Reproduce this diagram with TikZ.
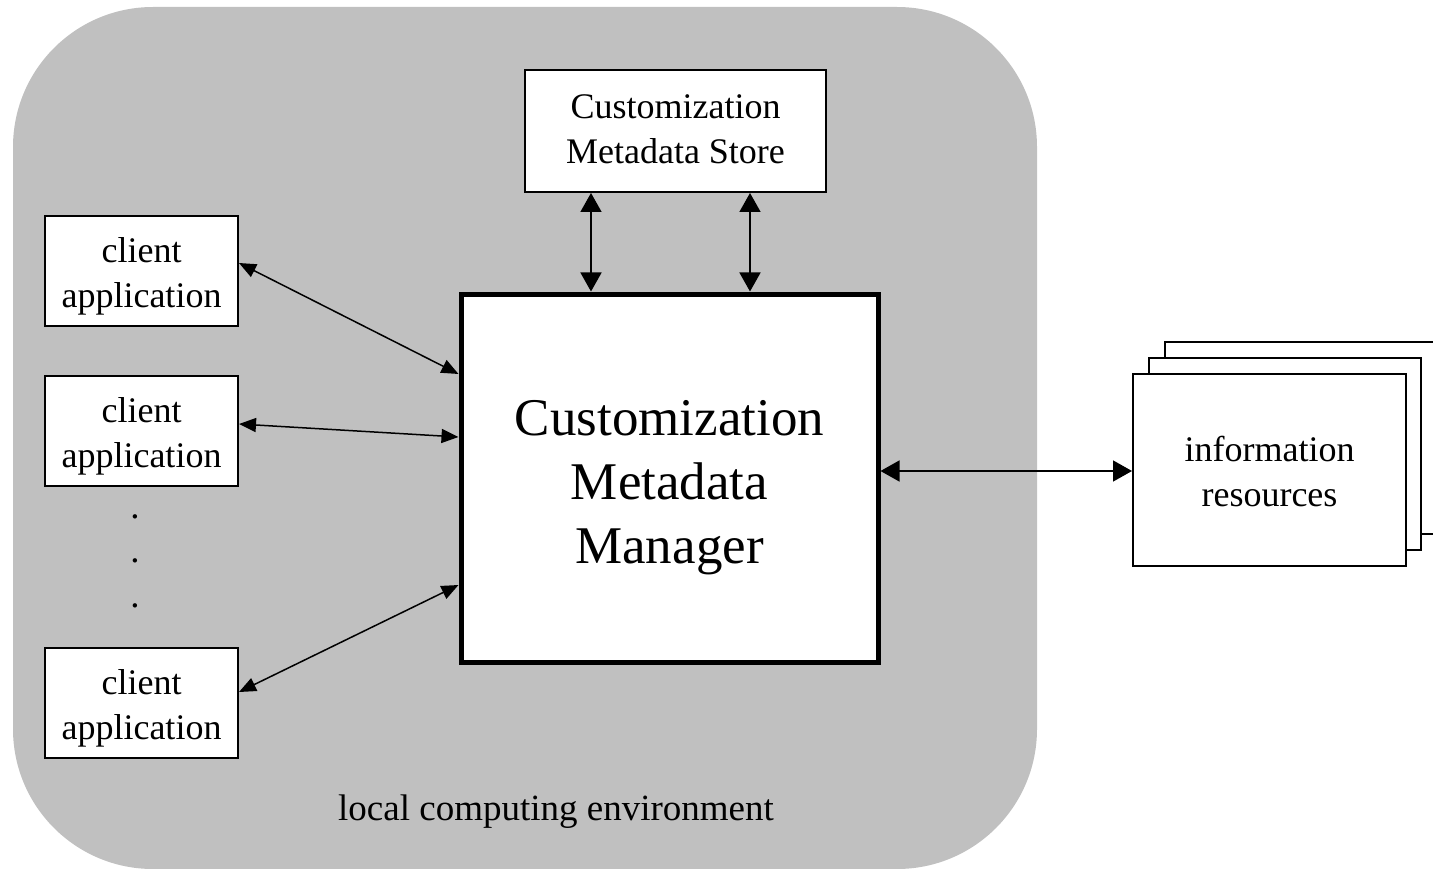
\documentclass[tikz,border=0pt]{standalone}
\usepackage{fontspec}
\setmainfont{Liberation Serif}
\usetikzlibrary{arrows.meta,calc}
\definecolor{envgray}{HTML}{C0C0C0}
\tikzset{
  box/.style={draw=black, line width=2pt, fill=white, inner sep=0pt},
  bigbox/.style={draw=black, line width=5pt, fill=white, inner sep=0pt},
  txt/.style={align=center, inner sep=0pt, font=\fontsize{36}{45}\selectfont},
  bigtxt/.style={align=center, inner sep=0pt, font=\fontsize{53}{64}\selectfont},
  pagebox/.style={draw=black, line width=2pt, fill=white, minimum width=272pt, minimum height=192pt},
  clientbox/.style={box, minimum width=193pt, minimum height=110pt},
  biarrow/.style={line width=1.5pt, {Triangle[length=19pt,width=21pt]}-{Triangle[length=19pt,width=21pt]}},
  diagarrow/.style={line width=1.5pt, {Triangle[length=17pt,width=14pt]}-{Triangle[length=17pt,width=14pt]}},
  lbl/.style={font=\fontsize{37}{45}\selectfont, inner sep=0pt}
}
\begin{document}
\begin{tikzpicture}[x=1pt,y=-1pt]
\useasboundingbox (0,0) rectangle (1433,869);
% environment
\fill[envgray, rounded corners=140pt] (13,7) rectangle (1037,869);
% store
\node[box, minimum width=301pt, minimum height=122pt] (store) at (675.5,131) {};
\node[txt] (storet) at (675.5,129.5) {Customization\\Metadata Store};
% big manager
\node[bigbox, minimum width=417pt, minimum height=368pt] (big) at (669.5,478) {};
\node[bigtxt] (bigt) at (669.5,488) {Customization\\Metadata\\Manager};
% clients
\node[clientbox] (c1) at (141.5,271) {};
\node[clientbox] (c2) at (141.5,431) {};
\node[clientbox] (c3) at (141.5,703) {};
\node[txt] (c1t) at (141.5,276.5) {client\\application};
\node[txt] (c2t) at (141.5,436.5) {client\\application};
\node[txt] (c3t) at (141.5,708.5) {client\\application};
% dots
\node[lbl, anchor=base] (d1) at (135,518) {.};
\node[lbl, anchor=base] (d2) at (135,562) {.};
\node[lbl, anchor=base] (d3) at (135,607) {.};
% info resources stack
\node[pagebox] (p3) at (1301,438) {};
\node[pagebox] (p2) at (1285,454) {};
\node[box, minimum width=273pt, minimum height=192pt] (info) at (1269.5,470) {};
\node[txt] (infot) at (1269.5,471.5) {information\\resources};
% label
\node[lbl] (env) at (556,812) {local computing environment};
% arrows
\draw[diagarrow] ([yshift=8pt]c1.east) -- ([yshift=104pt]big.west);
\draw[diagarrow] ([yshift=7pt]c2.east) -- ([yshift=41pt]big.west);
\draw[diagarrow] ([yshift=11pt]c3.east) -- ([yshift=-107pt]big.west);
\draw[biarrow] ([xshift=-84.5pt]store.south) -- ([xshift=-78.5pt]big.north);
\draw[biarrow] ([xshift=74.5pt]store.south) -- ([xshift=80.5pt]big.north);
\draw[biarrow] ([yshift=7pt]big.east) -- ([yshift=7pt]big.east -| info.west);
\end{tikzpicture}
\end{document}
